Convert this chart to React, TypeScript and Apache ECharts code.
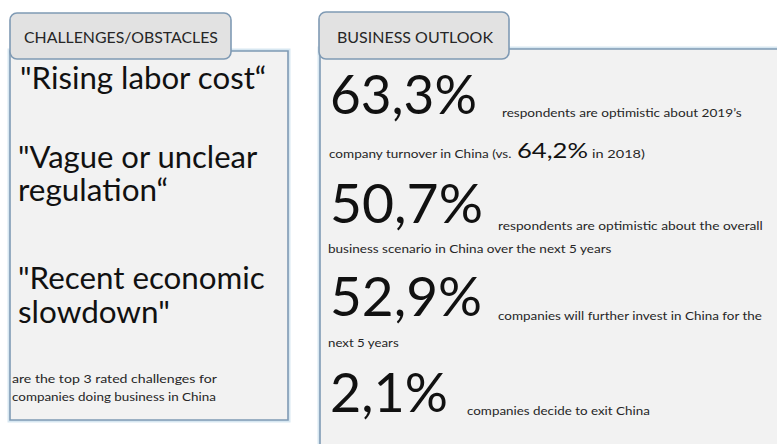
import React, { useEffect, useRef } from 'react';
import * as echarts from 'echarts';

// ---- data ----
const challengeTitle = 'CHALLENGES/OBSTACLES';
const outlookTitle = 'BUSINESS OUTLOOK';
const challengeLines = [
  ['"Rising labor cost“'],
  ['"Vague or unclear', 'regulation“'],
  ['"Recent economic', 'slowdown"'],
];
const challengeNote = ['are the top 3 rated challenges for', 'companies doing business in China'];
const outlookValues = [63.3, 50.7, 52.9, 2.1];
const outlookLead = [
  'respondents are optimistic about 2019’s',
  'respondents are optimistic about the overall',
  'companies will further invest in China for the',
  'companies decide to exit China',
];
const outlookCont = [
  'company turnover in China (vs.',
  'business scenario in China over the next 5 years',
  'next 5 years',
];
const previousValue = 64.2;
const previousYear = 2018;

// ---- layout (positions / sizes only) ----
const FONT = 'Lato';
const INK = '#111111';
const SMALL_INK = '#262626';
const BORDER = '#7f9ab4';
const GLOW = '#d7e7f1';
const challengeY = [[78], [156.5, 190], [278, 312]];
const challengeW = [[247], [240, 150], [247, 152]];
const challengeX = [20, 18, 18];
const noteY = [379, 397];
const noteW = [205, 204];
const numY = [93, 202, 295, 391];
const numW = [147, 153, 152, 118];
const leadX = [502, 498, 498, 467];
const leadY = [113.5, 226, 315.5, 411];
const leadW = [240, 265, 265, 183];
const contY = [154, 249, 343];
const contW = [183, 284, 71];

const fmt = (v: number) => v.toFixed(1).replace('.', ',') + '%';

let ctx: CanvasRenderingContext2D | null = null;
function measure(text: string, size: number) {
  if (!ctx) ctx = document.createElement('canvas').getContext('2d');
  ctx!.font = `normal ${size}px ${FONT}`;
  return ctx!.measureText(text).width;
}

function txt(text: string, x: number, y: number, size: number, targetW?: number, fill = INK) {
  const w = measure(text, size);
  const sx = targetW && w > 0 ? targetW / w : 1;
  return {
    type: 'text',
    x,
    y,
    scaleX: sx,
    silent: true,
    style: {
      text,
      fontSize: size,
      fontFamily: FONT,
      fill,
      align: 'left',
      verticalAlign: 'middle',
    },
  };
}

function panel(x: number, y: number, w: number, h: number) {
  return [
    {
      type: 'rect',
      shape: { x: x - 1, y: y - 1, width: w + 2, height: h + 2 },
      style: { fill: 'none', stroke: GLOW, lineWidth: 3 },
      silent: true,
    },
    {
      type: 'rect',
      shape: { x, y, width: w, height: h },
      style: { fill: '#f2f2f2', stroke: BORDER, lineWidth: 1.6 },
      silent: true,
    },
  ];
}

function tab(x: number, y: number, w: number, h: number) {
  return {
    type: 'rect',
    shape: { x, y, width: w, height: h, r: 7 },
    style: { fill: '#e2e2e2', stroke: BORDER, lineWidth: 1.6 },
    silent: true,
  };
}

export default function App() {
  const ref = useRef<HTMLDivElement>(null);
  useEffect(() => {
    if (!ref.current) return;
    const chart = echarts.init(ref.current, undefined, { renderer: 'svg' });
    const els: any[] = [];
    // panels
    els.push(...panel(10, 51, 278, 369));
    els.push(...panel(320, 49, 500, 420));
    els.push(tab(10, 13, 221, 46));
    els.push(tab(319, 12, 190, 47));
    els.push(txt(challengeTitle, 24, 37.5, 15, 194, SMALL_INK));
    els.push(txt(outlookTitle, 337, 37.5, 15, 156, SMALL_INK));

    // challenges
    challengeLines.forEach((lines, i) => {
      lines.forEach((line, j) => {
        els.push(txt(line, challengeX[i], challengeY[i][j], 30, challengeW[i][j]));
      });
    });
    challengeNote.forEach((line, i) => {
      els.push(txt(line, 12, noteY[i], 11.5, noteW[i], SMALL_INK));
    });

    // outlook
    outlookValues.forEach((v, i) => {
      els.push(txt(fmt(v), 330, numY[i], 54, numW[i]));
      els.push(txt(outlookLead[i], leadX[i], leadY[i], 11, leadW[i], SMALL_INK));
    });
    outlookCont.forEach((line, i) => {
      els.push(txt(line, i === 0 ? 329 : 328, contY[i], 11, contW[i], SMALL_INK));
    });
    els.push(txt(fmt(previousValue), 517, 150, 21, 71));
    els.push(txt(`in ${previousYear})`, 592, 154, 11, 53, SMALL_INK));

    chart.setOption({
      animation: false,
      backgroundColor: '#ffffff',
      graphic: { elements: els },
    });
    return () => chart.dispose();
  }, []);
  return (
    <div
      ref={ref}
      style={{ position: 'fixed', left: 0, top: 0, width: 777, height: 444 }}
    />
  );
}
